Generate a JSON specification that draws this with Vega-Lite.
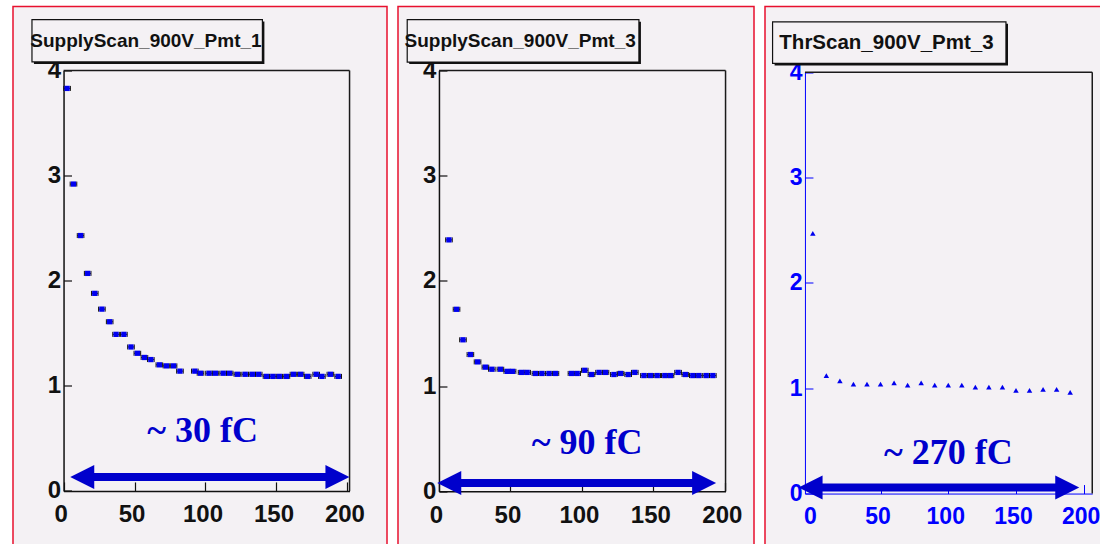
{
  "$schema": "https://vega.github.io/schema/vega-lite/v6.json",
  "padding": {"left": 12, "top": 5.5, "right": -15, "bottom": -10},
  "background": "white",
  "spacing": 9,
  "config": {
    "font": "Liberation Sans",
    "view": {"fill": "#f4f1f4", "stroke": "#e8102e", "strokeWidth": 1.5},
    "axis": {"grid": false}
  },
  "datasets": {
    "p1": [{"x":2.5,"y":3.83},{"x":7,"y":2.92},{"x":12,"y":2.43},{"x":17,"y":2.07},{"x":22,"y":1.88},{"x":27,"y":1.73},{"x":32.5,"y":1.61},{"x":37,"y":1.49},{"x":42.5,"y":1.49},{"x":47.5,"y":1.37},{"x":52,"y":1.31},{"x":57,"y":1.27},{"x":61.5,"y":1.25},{"x":67.5,"y":1.2},{"x":72.5,"y":1.19},{"x":77.5,"y":1.19},{"x":82,"y":1.14},{"x":92.5,"y":1.14},{"x":96.5,"y":1.12},{"x":102.5,"y":1.12},{"x":107,"y":1.12},{"x":112.5,"y":1.12},{"x":117,"y":1.12},{"x":122.5,"y":1.11},{"x":128,"y":1.11},{"x":133,"y":1.11},{"x":137.5,"y":1.11},{"x":143,"y":1.09},{"x":147.5,"y":1.09},{"x":152,"y":1.09},{"x":157,"y":1.09},{"x":162,"y":1.11},{"x":167,"y":1.11},{"x":172,"y":1.09},{"x":178,"y":1.11},{"x":182,"y":1.09},{"x":188,"y":1.11},{"x":193.5,"y":1.09}],
    "p2": [{"x":7,"y":2.39},{"x":12.3,"y":1.73},{"x":16.8,"y":1.44},{"x":22,"y":1.3},{"x":27,"y":1.23},{"x":32.5,"y":1.18},{"x":37,"y":1.16},{"x":43,"y":1.16},{"x":47.8,"y":1.14},{"x":51.5,"y":1.14},{"x":57.8,"y":1.13},{"x":61.7,"y":1.13},{"x":67.5,"y":1.12},{"x":72,"y":1.12},{"x":77,"y":1.12},{"x":81.5,"y":1.12},{"x":92.7,"y":1.12},{"x":96.7,"y":1.12},{"x":102,"y":1.15},{"x":106.7,"y":1.11},{"x":112,"y":1.13},{"x":116.5,"y":1.13},{"x":122.4,"y":1.11},{"x":127,"y":1.12},{"x":132.4,"y":1.11},{"x":137,"y":1.13},{"x":143.4,"y":1.1},{"x":148,"y":1.1},{"x":152.7,"y":1.1},{"x":158,"y":1.1},{"x":162,"y":1.1},{"x":167.3,"y":1.13},{"x":172.4,"y":1.11},{"x":177.6,"y":1.1},{"x":181.8,"y":1.1},{"x":187,"y":1.1},{"x":191.6,"y":1.1}],
    "p3": [{"x":0,"y":2.47},{"x":10,"y":1.12},{"x":20,"y":1.07},{"x":30,"y":1.04},{"x":40,"y":1.04},{"x":50,"y":1.04},{"x":60,"y":1.05},{"x":70,"y":1.03},{"x":80,"y":1.05},{"x":90,"y":1.03},{"x":100,"y":1.03},{"x":110,"y":1.03},{"x":120,"y":1.01},{"x":130,"y":1.01},{"x":140,"y":1.01},{"x":150,"y":0.98},{"x":160,"y":0.98},{"x":170,"y":0.99},{"x":180,"y":0.99},{"x":190,"y":0.96}]
  },
  "hconcat": [
    {
      "width": 374, "height": 546,
      "layer": [
        {
          "data": {"name": "p1"},
          "mark": {"type": "point", "shape": "M-3.3,-2.5V2.5M-3.3,0H3.3M3.3,-2.5V2.5", "size": 4, "filled": false, "color": "#111111", "strokeWidth": 1, "opacity": 1},
          "encoding": {
            "x": {"field": "x", "type": "quantitative", "scale": {"domain": [0, 201.5], "range": [50.55, 336.55], "nice": false, "zero": false},
                  "axis": {"orient": "bottom", "offset": -61.55, "values": [0, 50, 100, 150, 200], "format": "d", "title": null, "grid": false, "domainColor": "#111111", "domainWidth": 1.5, "tickColor": "#111111", "tickSize": -9, "tickWidth": 1.2, "labelFont": "Liberation Sans", "labelFontWeight": "bold", "labelFontSize": 24, "labelColor": "#111111", "labelPadding": 21, "labelOffset": -3, "labelFlush": false, "labelOverlap": false}},
            "y": {"field": "y", "type": "quantitative", "scale": {"domain": [0, 4], "range": [484.45, 64.05], "nice": false, "zero": false},
                  "axis": {"orient": "left", "offset": -50.55, "values": [0, 1, 2, 3, 4], "format": "d", "title": null, "grid": false, "domainColor": "#111111", "domainWidth": 1.5, "tickColor": "#111111", "tickSize": -8, "tickWidth": 1.2, "labelFont": "Liberation Sans", "labelFontWeight": "bold", "labelFontSize": 24, "labelColor": "#111111", "labelPadding": 11, "labelFlush": false, "labelOverlap": false}}
          }
        },
        {
          "data": {"name": "p1"},
          "mark": {"type": "point", "shape": "square", "size": 28, "filled": true, "color": "#0000f0", "opacity": 1},
          "encoding": {"x": {"field": "x", "type": "quantitative"}, "y": {"field": "y", "type": "quantitative"}}
        },
        {
          "data": {"values": [{}]},
          "mark": {"type": "rule", "color": "#1a1a1a", "strokeWidth": 1.5},
          "encoding": {"x": {"datum": 0, "type": "quantitative"}, "x2": {"datum": 201.5}, "y": {"datum": 4, "type": "quantitative"}}
        },
        {
          "data": {"values": [{}]},
          "mark": {"type": "rule", "color": "#1a1a1a", "strokeWidth": 1.5},
          "encoding": {"x": {"datum": 201.5, "type": "quantitative"}, "y": {"datum": 0, "type": "quantitative"}, "y2": {"datum": 4}}
        },
        {
          "data": {"values": [{}]},
          "mark": {"type": "rule", "color": "#0000cc", "strokeWidth": 8},
          "encoding": {"x": {"datum": 11.7, "type": "quantitative"}, "x2": {"datum": 194.4}, "y": {"datum": 0.133, "type": "quantitative"}}
        },
        {
          "data": {"values": [{}]},
          "mark": {"type": "point", "shape": "M0,0L2,-1L2,1Z", "size": 576, "filled": true, "color": "#0000cc", "opacity": 1},
          "encoding": {"x": {"datum": 4.7, "type": "quantitative"}, "y": {"datum": 0.133, "type": "quantitative"}}
        },
        {
          "data": {"values": [{}]},
          "mark": {"type": "point", "shape": "M0,0L-2,-1L-2,1Z", "size": 576, "filled": true, "color": "#0000cc", "opacity": 1},
          "encoding": {"x": {"datum": 201.4, "type": "quantitative"}, "y": {"datum": 0.133, "type": "quantitative"}}
        },
        {
          "data": {"values": [{}]},
          "mark": {"type": "text", "font": "Liberation Serif", "fontWeight": "bold", "fontSize": 36, "color": "#0000cc", "align": "center", "baseline": "alphabetic"},
          "encoding": {"x": {"datum": 98, "type": "quantitative"}, "y": {"datum": 0.466, "type": "quantitative"}, "text": {"value": "~ 30 fC"}}
        },
        {
          "data": {"values": [{}]},
          "mark": {"type": "rect", "fill": "#111111"},
          "encoding": {"x": {"datum": -20.85, "type": "quantitative"}, "x2": {"datum": 141.5}, "y": {"datum": 4.466, "type": "quantitative"}, "y2": {"datum": 4.063}}
        },
        {
          "data": {"values": [{}]},
          "mark": {"type": "rect", "fill": "#f4f1f4", "stroke": "#111111", "strokeWidth": 1.2},
          "encoding": {"x": {"datum": -22.25, "type": "quantitative"}, "x2": {"datum": 140.1}, "y": {"datum": 4.485, "type": "quantitative"}, "y2": {"datum": 4.082}}
        },
        {
          "data": {"values": [{}]},
          "mark": {"type": "text", "font": "Liberation Sans", "fontWeight": "bold", "fontSize": 19, "color": "#111111", "align": "left", "baseline": "alphabetic"},
          "encoding": {"x": {"datum": -23.4, "type": "quantitative"}, "y": {"datum": 4.225, "type": "quantitative"}, "text": {"value": "SupplyScan_900V_Pmt_1"}}
        }
      ]
    },
    {
      "width": 356, "height": 546,
      "layer": [
        {
          "data": {"name": "p2"},
          "mark": {"type": "point", "shape": "M-3.3,-2.5V2.5M-3.3,0H3.3M3.3,-2.5V2.5", "size": 4, "filled": false, "color": "#111111", "strokeWidth": 1, "opacity": 1},
          "encoding": {
            "x": {"field": "x", "type": "quantitative", "scale": {"domain": [0, 200.5], "range": [40.95, 327.55], "nice": false, "zero": false},
                  "axis": {"orient": "bottom", "offset": -61.25, "values": [0, 50, 100, 150, 200], "format": "d", "title": null, "grid": false, "domainColor": "#111111", "domainWidth": 1.5, "tickColor": "#111111", "tickSize": -9, "tickWidth": 1.2, "labelFont": "Liberation Sans", "labelFontWeight": "bold", "labelFontSize": 24, "labelColor": "#111111", "labelPadding": 21, "labelOffset": -3, "labelFlush": false, "labelOverlap": false}},
            "y": {"field": "y", "type": "quantitative", "scale": {"domain": [0, 4], "range": [484.75, 64.05], "nice": false, "zero": false},
                  "axis": {"orient": "left", "offset": -40.95, "values": [0, 1, 2, 3, 4], "format": "d", "title": null, "grid": false, "domainColor": "#111111", "domainWidth": 1.5, "tickColor": "#111111", "tickSize": -8, "tickWidth": 1.2, "labelFont": "Liberation Sans", "labelFontWeight": "bold", "labelFontSize": 24, "labelColor": "#111111", "labelPadding": 11, "labelFlush": false, "labelOverlap": false}}
          }
        },
        {
          "data": {"name": "p2"},
          "mark": {"type": "point", "shape": "square", "size": 28, "filled": true, "color": "#0000f0", "opacity": 1},
          "encoding": {"x": {"field": "x", "type": "quantitative"}, "y": {"field": "y", "type": "quantitative"}}
        },
        {
          "data": {"values": [{}]},
          "mark": {"type": "rule", "color": "#1a1a1a", "strokeWidth": 1.5},
          "encoding": {"x": {"datum": 0, "type": "quantitative"}, "x2": {"datum": 200.5}, "y": {"datum": 4, "type": "quantitative"}}
        },
        {
          "data": {"values": [{}]},
          "mark": {"type": "rule", "color": "#1a1a1a", "strokeWidth": 1.5},
          "encoding": {"x": {"datum": 200.5, "type": "quantitative"}, "y": {"datum": 0, "type": "quantitative"}, "y2": {"datum": 4}}
        },
        {
          "data": {"values": [{}]},
          "mark": {"type": "rule", "color": "#0000cc", "strokeWidth": 8},
          "encoding": {"x": {"datum": 5.8, "type": "quantitative"}, "x2": {"datum": 186.9}, "y": {"datum": 0.079, "type": "quantitative"}}
        },
        {
          "data": {"values": [{}]},
          "mark": {"type": "point", "shape": "M0,0L2,-1L2,1Z", "size": 576, "filled": true, "color": "#0000cc", "opacity": 1},
          "encoding": {"x": {"datum": -1.2, "type": "quantitative"}, "y": {"datum": 0.079, "type": "quantitative"}}
        },
        {
          "data": {"values": [{}]},
          "mark": {"type": "point", "shape": "M0,0L-2,-1L-2,1Z", "size": 576, "filled": true, "color": "#0000cc", "opacity": 1},
          "encoding": {"x": {"datum": 193.9, "type": "quantitative"}, "y": {"datum": 0.079, "type": "quantitative"}}
        },
        {
          "data": {"values": [{}]},
          "mark": {"type": "text", "font": "Liberation Serif", "fontWeight": "bold", "fontSize": 36, "color": "#0000cc", "align": "center", "baseline": "alphabetic"},
          "encoding": {"x": {"datum": 103.7, "type": "quantitative"}, "y": {"datum": 0.358, "type": "quantitative"}, "text": {"value": "~ 90 fC"}}
        },
        {
          "data": {"values": [{}]},
          "mark": {"type": "rect", "fill": "#111111"},
          "encoding": {"x": {"datum": -20.8, "type": "quantitative"}, "x2": {"datum": 141.3}, "y": {"datum": 4.465, "type": "quantitative"}, "y2": {"datum": 4.062}}
        },
        {
          "data": {"values": [{}]},
          "mark": {"type": "rect", "fill": "#f4f1f4", "stroke": "#111111", "strokeWidth": 1.2},
          "encoding": {"x": {"datum": -22.2, "type": "quantitative"}, "x2": {"datum": 139.9}, "y": {"datum": 4.484, "type": "quantitative"}, "y2": {"datum": 4.081}}
        },
        {
          "data": {"values": [{}]},
          "mark": {"type": "text", "font": "Liberation Sans", "fontWeight": "bold", "fontSize": 19, "color": "#111111", "align": "left", "baseline": "alphabetic"},
          "encoding": {"x": {"datum": -24.1, "type": "quantitative"}, "y": {"datum": 4.223, "type": "quantitative"}, "text": {"value": "SupplyScan_900V_Pmt_3"}}
        }
      ]
    },
    {
      "width": 354, "height": 546,
      "layer": [
        {
          "data": {"name": "p3"},
          "mark": {"type": "point", "shape": "triangle-up", "size": 30, "filled": true, "color": "#0000ee", "opacity": 1},
          "encoding": {
            "x": {"field": "x", "type": "quantitative", "scale": {"domain": [-5.8, 206.3], "range": [39.95, 327.25], "nice": false, "zero": false},
                  "axis": {"orient": "bottom", "offset": -58.95, "values": [0, 50, 100, 150, 200], "format": "d", "title": null, "grid": false, "domainColor": "#0000ff", "domainWidth": 1, "tickColor": "#0000ff", "tickSize": -9, "tickWidth": 1, "labelFont": "Liberation Sans", "labelFontWeight": "bold", "labelFontSize": 23, "labelColor": "#0000ff", "labelPadding": 21, "labelOffset": -3, "labelFlush": false, "labelOverlap": false}},
            "y": {"field": "y", "type": "quantitative", "scale": {"domain": [0, 4], "range": [487.05, 65.75], "nice": false, "zero": false},
                  "axis": {"orient": "left", "offset": -39.95, "values": [0, 1, 2, 3, 4], "format": "d", "title": null, "grid": false, "domainColor": "#0000ff", "domainWidth": 1, "tickColor": "#0000ff", "tickSize": -8, "tickWidth": 1, "labelFont": "Liberation Sans", "labelFontWeight": "bold", "labelFontSize": 23, "labelColor": "#0000ff", "labelPadding": 11, "labelFlush": false, "labelOverlap": false}}
          }
        },
        {
          "data": {"values": [{}]},
          "mark": {"type": "rule", "color": "#1a1a1a", "strokeWidth": 1.5},
          "encoding": {"x": {"datum": -5.8, "type": "quantitative"}, "x2": {"datum": 206.3}, "y": {"datum": 4, "type": "quantitative"}}
        },
        {
          "data": {"values": [{}]},
          "mark": {"type": "rule", "color": "#1a1a1a", "strokeWidth": 1.5},
          "encoding": {"x": {"datum": 206.3, "type": "quantitative"}, "y": {"datum": 0, "type": "quantitative"}, "y2": {"datum": 4}}
        },
        {
          "data": {"values": [{}]},
          "mark": {"type": "rule", "color": "#0000cc", "strokeWidth": 8},
          "encoding": {"x": {"datum": -3.1, "type": "quantitative"}, "x2": {"datum": 189.3}, "y": {"datum": 0.057, "type": "quantitative"}}
        },
        {
          "data": {"values": [{}]},
          "mark": {"type": "point", "shape": "M0,0L2,-1L2,1Z", "size": 576, "filled": true, "color": "#0000cc", "opacity": 1},
          "encoding": {"x": {"datum": -10.5, "type": "quantitative"}, "y": {"datum": 0.057, "type": "quantitative"}}
        },
        {
          "data": {"values": [{}]},
          "mark": {"type": "point", "shape": "M0,0L-2,-1L-2,1Z", "size": 576, "filled": true, "color": "#0000cc", "opacity": 1},
          "encoding": {"x": {"datum": 196.7, "type": "quantitative"}, "y": {"datum": 0.057, "type": "quantitative"}}
        },
        {
          "data": {"values": [{}]},
          "mark": {"type": "text", "font": "Liberation Serif", "fontWeight": "bold", "fontSize": 36, "color": "#0000cc", "align": "center", "baseline": "alphabetic"},
          "encoding": {"x": {"datum": 100.1, "type": "quantitative"}, "y": {"datum": 0.285, "type": "quantitative"}, "text": {"value": "~ 270 fC"}}
        },
        {
          "data": {"values": [{}]},
          "mark": {"type": "rect", "fill": "#111111"},
          "encoding": {"x": {"datum": -28.2, "type": "quantitative"}, "x2": {"datum": 144.1}, "y": {"datum": 4.46, "type": "quantitative"}, "y2": {"datum": 4.065}}
        },
        {
          "data": {"values": [{}]},
          "mark": {"type": "rect", "fill": "#f4f1f4", "stroke": "#111111", "strokeWidth": 1.2},
          "encoding": {"x": {"datum": -29.7, "type": "quantitative"}, "x2": {"datum": 142.6}, "y": {"datum": 4.479, "type": "quantitative"}, "y2": {"datum": 4.084}}
        },
        {
          "data": {"values": [{}]},
          "mark": {"type": "text", "font": "Liberation Sans", "fontWeight": "bold", "fontSize": 20.5, "color": "#111111", "align": "left", "baseline": "alphabetic"},
          "encoding": {"x": {"datum": -24.7, "type": "quantitative"}, "y": {"datum": 4.217, "type": "quantitative"}, "text": {"value": "ThrScan_900V_Pmt_3"}}
        }
      ]
    }
  ]
}
